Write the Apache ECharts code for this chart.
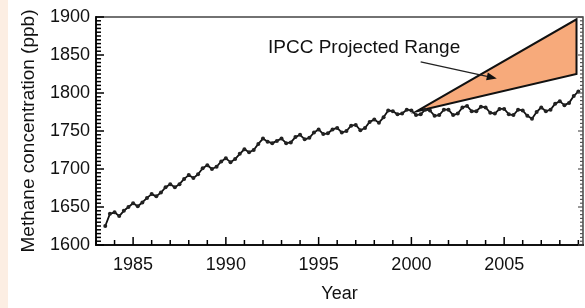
<!DOCTYPE html>
<html>
<head>
<meta charset="utf-8">
<script src="https://cdn.jsdelivr.net/npm/echarts@6/dist/echarts.min.js"></script>
<style>
  html, body { margin: 0; padding: 0; background: #fff; }
  #chart { width: 585px; height: 308px; }
</style>
</head>
<body>
<div id="chart"></div>
<script>
  // quarterly readings of the methane record (year, ppb)
  const years = [
    1983.50, 1983.75, 1984.00, 1984.25, 1984.50, 1984.75, 1985.00, 1985.25, 1985.50, 1985.75,
    1986.00, 1986.25, 1986.50, 1986.75, 1987.00, 1987.25, 1987.50, 1987.75, 1988.00, 1988.25,
    1988.50, 1988.75, 1989.00, 1989.25, 1989.50, 1989.75, 1990.00, 1990.25, 1990.50, 1990.75,
    1991.00, 1991.25, 1991.50, 1991.75, 1992.00, 1992.25, 1992.50, 1992.75, 1993.00, 1993.25,
    1993.50, 1993.75, 1994.00, 1994.25, 1994.50, 1994.75, 1995.00, 1995.25, 1995.50, 1995.75,
    1996.00, 1996.25, 1996.50, 1996.75, 1997.00, 1997.25, 1997.50, 1997.75, 1998.00, 1998.25,
    1998.50, 1998.75, 1999.00, 1999.25, 1999.50, 1999.75, 2000.00, 2000.25, 2000.50, 2000.75,
    2001.00, 2001.25, 2001.50, 2001.75, 2002.00, 2002.25, 2002.50, 2002.75, 2003.00, 2003.25,
    2003.50, 2003.75, 2004.00, 2004.25, 2004.50, 2004.75, 2005.00, 2005.25, 2005.50, 2005.75,
    2006.00, 2006.25, 2006.50, 2006.75, 2007.00, 2007.25, 2007.50, 2007.75, 2008.00, 2008.25,
    2008.50, 2008.75, 2009.00
  ];
  const methane = [
    1625, 1641, 1643, 1638, 1645, 1650, 1655, 1651, 1656, 1662,
    1667, 1664, 1669, 1676, 1680, 1676, 1680, 1687, 1692, 1688,
    1693, 1701, 1705, 1700, 1703, 1710, 1714, 1709, 1713, 1720,
    1726, 1722, 1725, 1733, 1740, 1736, 1734, 1737, 1740, 1734,
    1735, 1742, 1745, 1739, 1741, 1748, 1752, 1746, 1747, 1752,
    1754, 1748, 1750, 1757, 1758, 1751, 1754, 1762, 1765, 1761,
    1768, 1777, 1776, 1772, 1773, 1778, 1777, 1771, 1772, 1778,
    1777, 1770, 1771, 1778, 1778, 1771, 1773, 1781, 1783, 1776,
    1776, 1782, 1781, 1774, 1773, 1779, 1779, 1772, 1771, 1778,
    1777, 1770, 1766, 1775, 1781, 1776, 1778, 1786, 1789, 1784,
    1787, 1796, 1802
  ];

  // IPCC projected range polygon corners
  const rangeYears = [2000.3, 2008.9, 2008.9];
  const rangeValues = [1776, 1897, 1825];

  // annotation arrow (start, end)
  const arrowYears = [2000.5, 2004.6];
  const arrowValues = [1841, 1819];

  // axis tick positions
  const majorYears = [1985, 1990, 1995, 2000, 2005];
  const minorYears = [1983, 1984, 1985, 1986, 1987, 1988, 1989, 1990, 1991, 1992, 1993, 1994, 1995,
    1996, 1997, 1998, 1999, 2000, 2001, 2002, 2003, 2004, 2005, 2006, 2007, 2008, 2009];
  const majorPpb = [1600, 1650, 1700, 1750, 1800, 1850, 1900];
  const minorPpb = [];
  for (let v = 1600; v <= 1900; v += 5) minorPpb.push(v);

  const xMin = 1983, xMax = 2009.25, yMin = 1600, yMax = 1900;

  const font = 'Liberation Sans, Arial, sans-serif';
  const ink = '#111';
  const plain = function (v) { return String(v); };

  function seg(a, b, color, w) {
    return {
      type: 'line',
      shape: { x1: a[0], y1: a[1], x2: b[0], y2: b[1] },
      style: { stroke: color, lineWidth: w || 1.5 }
    };
  }

  // all inward ticks of the frame, drawn as one group
  function renderTicks(params, api) {
    const kids = [];
    minorYears.forEach(function (y) {
      const p = api.coord([y, yMin]);
      const len = majorYears.indexOf(y) >= 0 ? 8 : 5;
      kids.push(seg(p, [p[0], p[1] - len], '#000'));
    });
    minorPpb.forEach(function (v) {
      const major = majorPpb.indexOf(v) >= 0;
      const l = api.coord([xMin, v]);
      kids.push(seg(l, [l[0] + (major ? 8 : 5), l[1]], '#000'));
      const r = api.coord([xMax, v]);
      kids.push(seg(r, [r[0] - (major ? 5 : 3), r[1]], '#555', 1.2));
    });
    return { type: 'group', children: kids };
  }

  // annotation arrow with a filled head
  function renderArrow(params, api) {
    const a = api.coord([arrowYears[0], arrowValues[0]]);
    const b = api.coord([arrowYears[1], arrowValues[1]]);
    const ang = Math.atan2(b[1] - a[1], b[0] - a[0]);
    const hl = 10, hw = 4;
    const bx = b[0] - hl * Math.cos(ang), by = b[1] - hl * Math.sin(ang);
    const nx = -Math.sin(ang) * hw, ny = Math.cos(ang) * hw;
    return {
      type: 'group',
      children: [
        seg(a, [bx, by], '#222', 1.3),
        {
          type: 'polygon',
          shape: { points: [b, [bx + nx, by + ny], [bx - nx, by - ny]] },
          style: { fill: '#111' }
        }
      ]
    };
  }

  const chart = echarts.init(document.getElementById('chart'));
  const option = {
    animation: false,
    backgroundColor: '#fff',
    grid: {
      left: 96, right: 2, top: 17, bottom: 57,
      show: true, borderColor: '#444', borderWidth: 1.5, backgroundColor: 'transparent'
    },
    graphic: [
      { type: 'rect', left: 0, top: 0, shape: { width: 8, height: 308 }, style: { fill: '#FCEEE3' }, z: -1 },
      {
        type: 'text', left: 268, top: 38,
        style: { text: 'IPCC Projected Range', font: '19px ' + font, fill: ink }
      }
    ],
    xAxis: {
      type: 'value', min: xMin, max: xMax,
      name: 'Year', nameLocation: 'middle', nameGap: 40,
      nameTextStyle: { fontFamily: font, fontSize: 18, color: ink },
      axisLine: { show: true, lineStyle: { color: '#111', width: 2 } },
      axisTick: { show: false },
      axisLabel: { show: true, customValues: majorYears, formatter: plain, margin: 11, fontFamily: font, fontSize: 18, color: ink },
      splitLine: { show: false }
    },
    yAxis: {
      type: 'value', min: yMin, max: yMax, interval: 50,
      name: 'Methane concentration (ppb)', nameLocation: 'middle', nameGap: 58, nameRotate: 90,
      nameTextStyle: { fontFamily: font, fontSize: 19, color: ink },
      axisLine: { show: true, lineStyle: { color: '#111', width: 2 } },
      axisTick: { show: false },
      axisLabel: { show: true, formatter: plain, margin: 6, fontFamily: font, fontSize: 18, color: ink },
      splitLine: { show: false }
    },
    series: [
      {
        type: 'custom',
        renderItem: function (params, api) {
          const pts = rangeYears.map(function (yr, i) { return api.coord([yr, rangeValues[i]]); });
          return {
            type: 'polygon',
            shape: { points: pts },
            style: { fill: '#F7AA7B', stroke: '#111', lineWidth: 2 }
          };
        },
        data: [[rangeYears[0], rangeValues[0]]],
        z: 2
      },
      {
        type: 'line',
        data: years.map(function (yr, i) { return [yr, methane[i]]; }),
        symbol: 'circle', symbolSize: 4,
        itemStyle: { color: '#222' },
        lineStyle: { color: '#111', width: 1.8 },
        z: 3
      },
      {
        type: 'custom',
        silent: true,
        renderItem: renderArrow,
        data: [[arrowYears[1], arrowValues[1]]],
        z: 4
      },
      {
        type: 'custom',
        silent: true,
        renderItem: renderTicks,
        data: [[2000, 1750]],
        z: 5
      }
    ]
  };
  chart.setOption(option);
</script>
</body>
</html>
